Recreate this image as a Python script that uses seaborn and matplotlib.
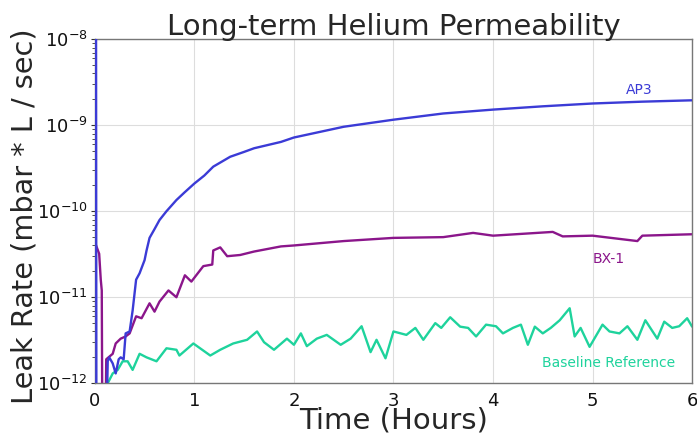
import matplotlib
matplotlib.use("Agg")
import matplotlib.pyplot as plt
import seaborn as sns
import pandas as pd
from matplotlib.ticker import LogLocator

# AP3
ap3_t = [0.012, 0.016, 0.12, 0.13, 0.145, 0.18, 0.21, 0.24, 0.26, 0.29, 0.31, 0.35,
         0.38, 0.415, 0.45, 0.5, 0.52, 0.55, 0.6, 0.65, 0.72, 0.82, 0.9, 1.0, 1.1,
         1.19, 1.36, 1.5, 1.6, 1.87, 2.0, 2.5, 3.0, 3.5, 4.0, 4.5, 5.0, 5.5, 6.0]
ap3_v = [1e-7, 5e-13, 5e-13, 1.8e-12, 2.0e-12, 1.7e-12, 1.3e-12, 1.9e-12,
         2.0e-12, 1.9e-12, 3.8e-12, 4.0e-12, 7e-12, 1.6e-11, 1.9e-11, 2.7e-11,
         3.5e-11, 4.9e-11, 6.2e-11, 7.9e-11, 1.0e-10, 1.35e-10, 1.65e-10,
         2.1e-10, 2.6e-10, 3.3e-10, 4.3e-10, 4.9e-10, 5.4e-10, 6.4e-10, 7.2e-10,
         9.6e-10, 1.16e-9, 1.37e-9, 1.52e-9, 1.66e-9, 1.79e-9, 1.88e-9, 1.95e-9]

# BX-1
bx_t = [0, 0.044, 0.06, 0.07, 0.075, 0.11, 0.115, 0.18, 0.21, 0.26, 0.31,
        0.35, 0.415, 0.47, 0.55, 0.6, 0.65, 0.74, 0.82, 0.905, 0.97, 1.09,
        1.18, 1.19, 1.26, 1.33, 1.46, 1.6, 1.87, 2.0, 2.5, 3.0, 3.5, 3.8, 4.0,
        4.6, 4.7, 5.0, 5.45, 5.5, 6.0]
bx_v = [4.4e-11, 3.2e-11, 1.6e-11, 1.2e-11, 5e-13, 5e-13, 1.9e-12, 2.2e-12,
        2.9e-12, 3.3e-12, 3.5e-12, 3.8e-12, 6e-12, 5.7e-12, 8.5e-12, 6.8e-12,
        8.9e-12, 1.2e-11, 1.0e-11, 1.8e-11, 1.52e-11, 2.3e-11, 2.4e-11,
        3.5e-11, 3.8e-11, 3.0e-11, 3.1e-11, 3.4e-11, 3.9e-11, 4.0e-11,
        4.5e-11, 4.9e-11, 5.0e-11, 5.6e-11, 5.2e-11, 5.75e-11, 5.1e-11,
        5.2e-11, 4.5e-11, 5.2e-11, 5.4e-11]

# Baseline Reference
base_t = [0.13, 0.18, 0.23, 0.28, 0.33, 0.38, 0.45, 0.52, 0.62, 0.72,
          0.82, 0.85, 0.99, 1.16, 1.26, 1.39, 1.53, 1.63, 1.7, 1.8,
          1.93, 2.0, 2.07, 2.13, 2.23, 2.33, 2.47, 2.57, 2.68, 2.77,
          2.83, 2.92, 3.0, 3.13, 3.22, 3.3, 3.42, 3.48, 3.57, 3.67,
          3.75, 3.83, 3.93, 4.03, 4.1, 4.2, 4.28, 4.35, 4.42, 4.5,
          4.58, 4.67, 4.77, 4.82, 4.88, 4.97, 5.1, 5.17, 5.27, 5.35,
          5.45, 5.53, 5.65, 5.72, 5.8, 5.87, 5.95, 6.0]
base_v = [1.0e-12, 1.3e-12, 1.43e-12, 1.8e-12, 1.8e-12, 1.43e-12, 2.2e-12, 2.0e-12, 1.8e-12, 2.55e-12,
          2.45e-12, 2.1e-12, 2.9e-12, 2.1e-12, 2.45e-12, 2.9e-12, 3.2e-12, 4.0e-12, 3.0e-12, 2.45e-12,
          3.3e-12, 2.8e-12, 3.8e-12, 2.7e-12, 3.3e-12, 3.65e-12, 2.8e-12, 3.3e-12, 4.6e-12, 2.3e-12,
          3.2e-12, 1.95e-12, 4.0e-12, 3.65e-12, 4.4e-12, 3.2e-12, 5.0e-12, 4.4e-12, 5.85e-12, 4.55e-12,
          4.4e-12, 3.5e-12, 4.8e-12, 4.6e-12, 3.8e-12, 4.4e-12, 4.8e-12, 2.8e-12, 4.55e-12, 3.8e-12,
          4.4e-12, 5.4e-12, 7.45e-12, 3.5e-12, 4.4e-12, 2.65e-12, 4.8e-12, 4.0e-12, 3.8e-12, 4.6e-12,
          3.2e-12, 5.4e-12, 3.3e-12, 5.2e-12, 4.4e-12, 4.6e-12, 5.7e-12, 4.55e-12]

colors = {"AP3": "#3b3bd6", "BX-1": "#8b168b", "Baseline Reference": "#1ed39c"}


def build_df():
    frames = []
    for name, t, v in [("AP3", ap3_t, ap3_v), ("BX-1", bx_t, bx_v),
                       ("Baseline Reference", base_t, base_v)]:
        frames.append(pd.DataFrame({"t": t, "rate": v, "sample": name}))
    return pd.concat(frames, ignore_index=True)


def main():
    sns.set_style("whitegrid")
    fig = plt.figure(figsize=(6.97, 4.36), dpi=100)
    ax = fig.add_axes([0.136, 0.121, 0.857, 0.789])

    df = build_df()
    sns.lineplot(data=df, x="t", y="rate", hue="sample", palette=colors,
                 legend=False, linewidth=1.7, ax=ax, estimator=None, sort=False)
    # blue spike sits on top at the start
    ax.lines[0].set_zorder(3)

    ax.set_yscale("log")
    ax.set_xlim(0, 6)
    ax.set_ylim(1e-12, 1e-8)
    ax.yaxis.set_major_locator(LogLocator(base=10, numticks=10))
    ax.yaxis.set_minor_locator(LogLocator(base=10, subs=range(2, 10), numticks=20))
    ax.tick_params(axis="y", which="both", left=True, colors="#333333",
                   labelcolor="#111111", labelsize=13, pad=2)
    ax.tick_params(axis="y", which="major", length=3)
    ax.tick_params(axis="y", which="minor", length=2)
    ax.tick_params(axis="x", labelsize=13, labelcolor="#111111", pad=3)
    ax.grid(True, which="major", color="#dddddd", linewidth=0.8)

    for side in ["top", "right", "bottom", "left"]:
        ax.spines[side].set_color("#777777")
        ax.spines[side].set_linewidth(1)

    ax.set_title("Long-term Helium Permeability", fontsize=21, pad=3)
    ax.set_xlabel("Time (Hours)", fontsize=21)
    ax.xaxis.set_label_coords(0.5, -0.068)
    ax.xaxis.label.set_va("top")
    ax.set_ylabel("Leak Rate (mbar * L / sec)", fontsize=20.7)
    ax.yaxis.set_label_coords(-0.095, 0.486)

    ax.text(5.47, 2.6e-9, "AP3", color=colors["AP3"], fontsize=10, ha="center", va="center")
    ax.text(5.16, 2.8e-11, "BX-1", color=colors["BX-1"], fontsize=10, ha="center", va="center")
    ax.text(5.16, 1.7e-12, "Baseline Reference", color=colors["Baseline Reference"],
            fontsize=10, ha="center", va="center")

    fig.savefig("out.png", dpi=100)


if __name__ == "__main__":
    main()
